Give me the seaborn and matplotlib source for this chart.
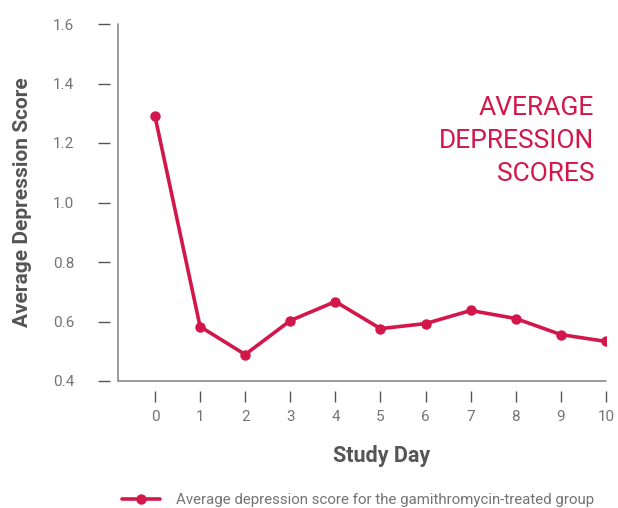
import numpy as np
import pandas as pd
import matplotlib
matplotlib.use("Agg")
import matplotlib.pyplot as plt
import seaborn as sns

# Datos
study_day = [0, 1, 2, 3, 4, 5, 6, 7, 8, 9, 10]
avg_score = [1.29, 0.583, 0.489, 0.603, 0.667, 0.576, 0.593, 0.637, 0.61, 0.556, 0.533]
y_ticks = [0.4, 0.6, 0.8, 1.0, 1.2, 1.4, 1.6]
series_label = "Average depression score for the gamithromycin-treated group"
title_lines = "AVERAGE\nDEPRESSION\nSCORES"

RED = "#D3174B"
GREY_TXT = "#747474"
GREY_LBL = "#555555"
GREY_AX = "#8a8a8a"

sns.set_style("white")
plt.rcParams["font.family"] = ["Roboto", "DejaVu Sans"]

df = pd.DataFrame({"day": study_day, "score": avg_score})

fig = plt.figure(figsize=(6.18, 5.08), dpi=100)
ax = fig.add_axes([118 / 618, 0.25, (606 - 118) / 618, 1 - 24 / 508 - 0.25])

sns.lineplot(data=df, x="day", y="score", ax=ax, color=RED, linewidth=2.6,
             marker="o", markersize=7.5, markeredgewidth=0, label=series_label,
             legend=False)

ax.set_xlim(-0.82, 10)
ax.set_ylim(0.4, 1.6)
ax.set_xticks(study_day)
ax.set_yticks(y_ticks)
ax.set_yticklabels([f"{v:.1f}" for v in y_ticks])

# Ejes: spines invisibles desplazados para los ticks, líneas dibujadas aparte
for side in ["top", "right", "left", "bottom"]:
    ax.spines[side].set_visible(False)
ax.spines["left"].set_position(("outward", 6))
ax.spines["bottom"].set_position(("outward", 7))
ax.plot([0, 0], [0, 1], transform=ax.transAxes, color=GREY_AX, lw=1.2, clip_on=False)
ax.plot([0, 1], [0, 0], transform=ax.transAxes, color=GREY_AX, lw=1.2, clip_on=False)

ax.tick_params(axis="y", left=True, direction="out", length=8.5, width=1,
               color="#555555", pad=17, labelsize=11, labelcolor=GREY_TXT)
ax.tick_params(axis="x", bottom=True, direction="out", length=8, width=1,
               color="#555555", pad=6, labelsize=11, labelcolor=GREY_TXT)

ax.set_xlabel("Study Day", fontsize=15.5, fontweight="bold", color=GREY_LBL, labelpad=15)
ax.set_ylabel("Average Depression Score", fontsize=15, fontweight="bold",
              color=GREY_LBL, labelpad=15)
ax.xaxis.label.set_position((0.54, 0))

ax.text(594 / 618, 1 - 141 / 508, title_lines, transform=fig.transFigure,
        ha="right", va="center", fontsize=19, color=RED, linespacing=1.45)

handles, labels = ax.get_legend_handles_labels()
fig.legend(handles, labels, loc="center left", bbox_to_anchor=(122 / 618, 8 / 508),
           frameon=False, borderpad=0, borderaxespad=0, handlelength=2.5,
           handletextpad=1.1, prop={"size": 10.8}, labelcolor=GREY_TXT)

plt.savefig("out.png", dpi=100)
